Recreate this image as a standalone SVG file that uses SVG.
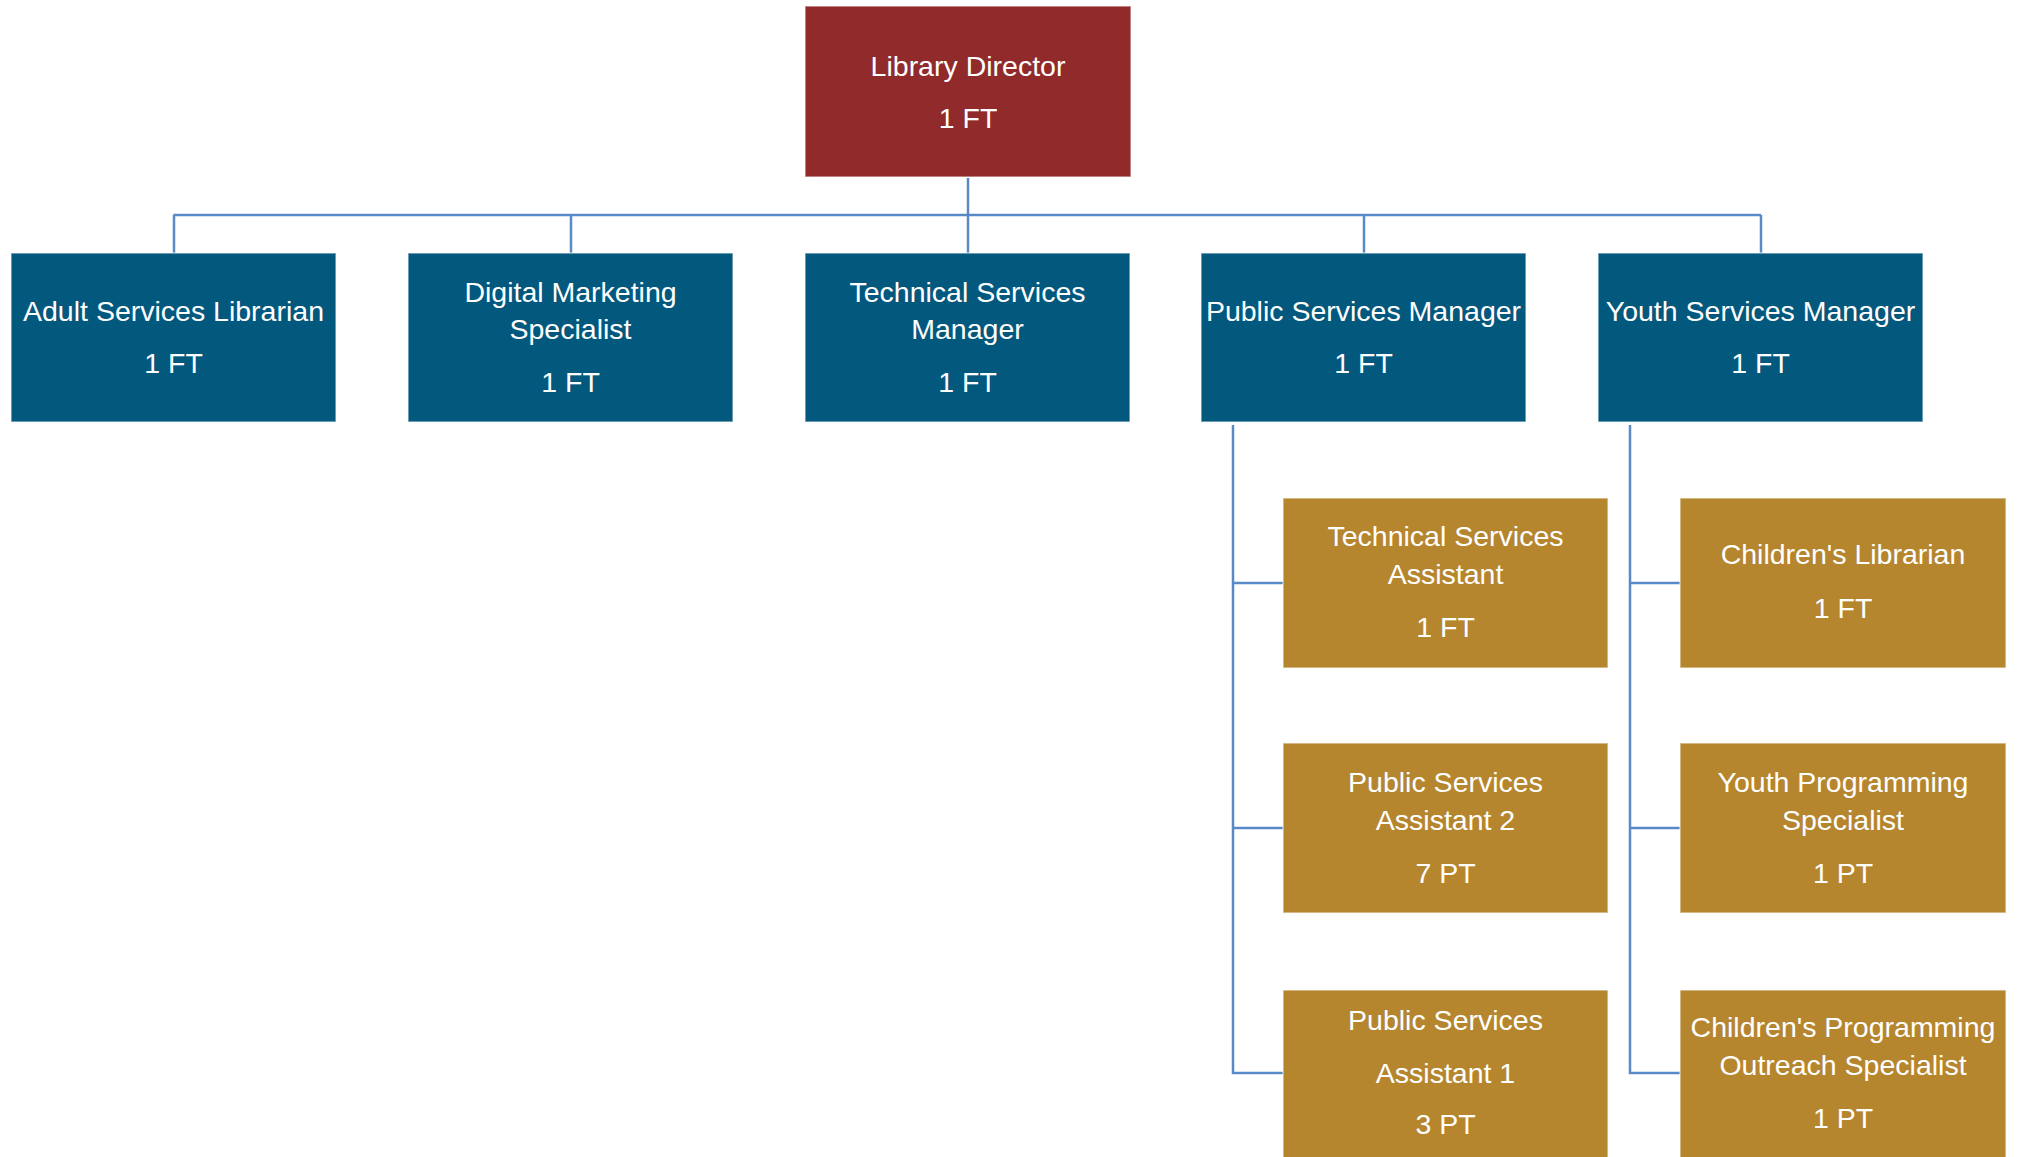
<svg xmlns="http://www.w3.org/2000/svg" width="2018" height="1157" viewBox="0 0 2018 1157">
<style>
  .box { stroke: #ffffff; stroke-opacity: 0.55; stroke-width: 1.5; }
  .dir { fill: #912B2B; }
  .blue { fill: #03587E; }
  .gold { fill: #B5862E; }
  .lbl { font-family: "Liberation Sans", Arial, sans-serif; font-size: 28.5px; fill: #ffffff; text-anchor: middle; }
  .con { stroke: #5A8AC6; stroke-width: 2.5; fill: none; }
</style>
<rect width="2018" height="1157" fill="#ffffff"/>
<g id="connectors">
  <line class="con" x1="968" y1="178" x2="968" y2="253"/>
  <line class="con" x1="173.5" y1="215" x2="1761" y2="215"/>
  <line class="con" x1="174" y1="215" x2="174" y2="253"/>
  <line class="con" x1="571" y1="215" x2="571" y2="253"/>
  <line class="con" x1="1364" y1="215" x2="1364" y2="253"/>
  <line class="con" x1="1761" y1="215" x2="1761" y2="253"/>
  <path class="con" d="M1233 425 V1073 H1283 M1233 583 H1283 M1233 828 H1283"/>
  <path class="con" d="M1630 425 V1073 H1680 M1630 583 H1680 M1630 828 H1680"/>
</g>
<g id="library-director">
  <rect class="box dir" x="805" y="6" width="326" height="171"/>
  <text class="lbl" x="968" y="76">Library Director</text>
  <text class="lbl" x="968" y="128">1 FT</text>
</g>
<g id="adult-services-librarian">
  <rect class="box blue" x="11" y="253" width="325" height="169"/>
  <text class="lbl" x="173.5" y="321">Adult Services Librarian</text>
  <text class="lbl" x="173.5" y="373">1 FT</text>
</g>
<g id="digital-marketing-specialist">
  <rect class="box blue" x="408" y="253" width="325" height="169"/>
  <text class="lbl" x="570.5" y="302">Digital Marketing</text>
  <text class="lbl" x="570.5" y="339">Specialist</text>
  <text class="lbl" x="570.5" y="392">1 FT</text>
</g>
<g id="technical-services-manager">
  <rect class="box blue" x="805" y="253" width="325" height="169"/>
  <text class="lbl" x="967.5" y="302">Technical Services</text>
  <text class="lbl" x="967.5" y="339">Manager</text>
  <text class="lbl" x="967.5" y="392">1 FT</text>
</g>
<g id="public-services-manager">
  <rect class="box blue" x="1201" y="253" width="325" height="169"/>
  <text class="lbl" x="1363.5" y="321">Public Services Manager</text>
  <text class="lbl" x="1363.5" y="373">1 FT</text>
</g>
<g id="youth-services-manager">
  <rect class="box blue" x="1598" y="253" width="325" height="169"/>
  <text class="lbl" x="1760.5" y="321">Youth Services Manager</text>
  <text class="lbl" x="1760.5" y="373">1 FT</text>
</g>
<g id="technical-services-assistant">
  <rect class="box gold" x="1283" y="498" width="325" height="170"/>
  <text class="lbl" x="1445.5" y="546">Technical Services</text>
  <text class="lbl" x="1445.5" y="584">Assistant</text>
  <text class="lbl" x="1445.5" y="637">1 FT</text>
</g>
<g id="public-services-assistant-2">
  <rect class="box gold" x="1283" y="743" width="325" height="170"/>
  <text class="lbl" x="1445.5" y="792">Public Services</text>
  <text class="lbl" x="1445.5" y="830">Assistant 2</text>
  <text class="lbl" x="1445.5" y="883">7 PT</text>
</g>
<g id="public-services-assistant-1">
  <rect class="box gold" x="1283" y="990" width="325" height="172"/>
  <text class="lbl" x="1445.5" y="1030">Public Services</text>
  <text class="lbl" x="1445.5" y="1083">Assistant 1</text>
  <text class="lbl" x="1445.5" y="1134">3 PT</text>
</g>
<g id="childrens-librarian">
  <rect class="box gold" x="1680" y="498" width="326" height="170"/>
  <text class="lbl" x="1843" y="564">Children's Librarian</text>
  <text class="lbl" x="1843" y="618">1 FT</text>
</g>
<g id="youth-programming-specialist">
  <rect class="box gold" x="1680" y="743" width="326" height="170"/>
  <text class="lbl" x="1843" y="792">Youth Programming</text>
  <text class="lbl" x="1843" y="830">Specialist</text>
  <text class="lbl" x="1843" y="883">1 PT</text>
</g>
<g id="childrens-programming-outreach-specialist">
  <rect class="box gold" x="1680" y="990" width="326" height="172"/>
  <text class="lbl" x="1843" y="1037">Children's Programming</text>
  <text class="lbl" x="1843" y="1075">Outreach Specialist</text>
  <text class="lbl" x="1843" y="1128">1 PT</text>
</g>
</svg>
